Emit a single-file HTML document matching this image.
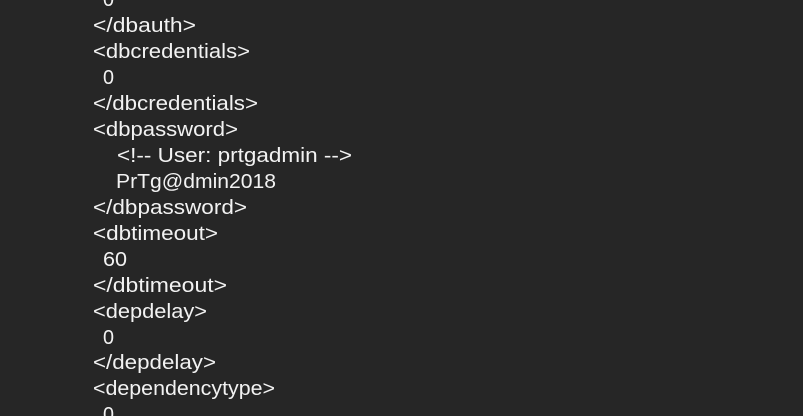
<!DOCTYPE html>
<html><head><meta charset="utf-8"><style>
html,body{margin:0;padding:0;background:#262626;width:803px;height:416px;overflow:hidden}
svg{display:block}
text{font-family:"Liberation Sans",sans-serif;font-size:20px;fill:#f2f2f2}
</style></head><body>
<svg width="803" height="416" xmlns="http://www.w3.org/2000/svg">
<rect width="803" height="416" fill="#262626"/>
<text x="103" y="6" textLength="11" lengthAdjust="spacingAndGlyphs">0</text>
<text x="93" y="32" textLength="103" lengthAdjust="spacingAndGlyphs">&lt;/dbauth&gt;</text>
<text x="93" y="58" textLength="157" lengthAdjust="spacingAndGlyphs">&lt;dbcredentials&gt;</text>
<text x="103" y="84" textLength="11" lengthAdjust="spacingAndGlyphs">0</text>
<text x="93" y="110" textLength="165" lengthAdjust="spacingAndGlyphs">&lt;/dbcredentials&gt;</text>
<text x="93" y="136" textLength="145" lengthAdjust="spacingAndGlyphs">&lt;dbpassword&gt;</text>
<text x="117" y="162" textLength="235" lengthAdjust="spacingAndGlyphs">&lt;!-- User: prtgadmin --&gt;</text>
<text x="116" y="188" textLength="160" lengthAdjust="spacingAndGlyphs">PrTg@dmin2018</text>
<text x="93" y="214" textLength="154" lengthAdjust="spacingAndGlyphs">&lt;/dbpassword&gt;</text>
<text x="93" y="240" textLength="125" lengthAdjust="spacingAndGlyphs">&lt;dbtimeout&gt;</text>
<text x="103" y="266" textLength="24" lengthAdjust="spacingAndGlyphs">60</text>
<text x="93" y="292" textLength="134" lengthAdjust="spacingAndGlyphs">&lt;/dbtimeout&gt;</text>
<text x="93" y="318" textLength="114" lengthAdjust="spacingAndGlyphs">&lt;depdelay&gt;</text>
<text x="103" y="344" textLength="11" lengthAdjust="spacingAndGlyphs">0</text>
<text x="93" y="369" textLength="123" lengthAdjust="spacingAndGlyphs">&lt;/depdelay&gt;</text>
<text x="93" y="395" textLength="182" lengthAdjust="spacingAndGlyphs">&lt;dependencytype&gt;</text>
<text x="103" y="421" textLength="11" lengthAdjust="spacingAndGlyphs">0</text>
</svg>
</body></html>
